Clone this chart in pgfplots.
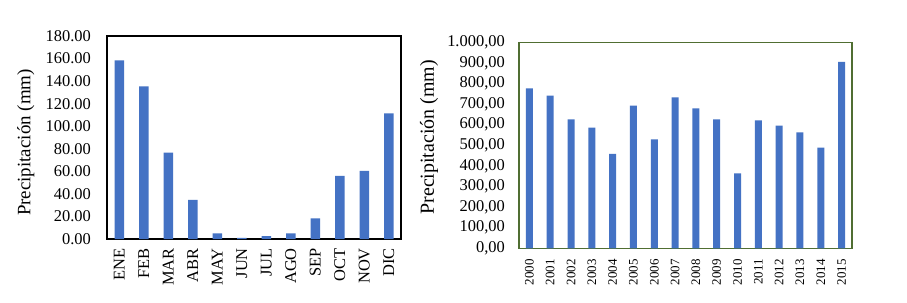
\documentclass[border=0pt]{standalone}
\usepackage{fontspec}
\setmainfont{Liberation Serif}
\usepackage{pgfplots}
\pgfplotsset{compat=1.18}
\definecolor{barblue}{HTML}{4472C4}
\definecolor{boxgreen}{RGB}{80,110,50}
\begin{document}
\begin{tikzpicture}[x=1bp,y=1bp]
\path[use as bounding box, fill=white] (0,0) rectangle (907,302);
\begin{axis}[at={(107bp,63bp)}, anchor=south west, scale only axis,
  width=294bp, height=203bp,
  xmin=-0.5, xmax=11.5, ymin=0, ymax=180,
  ytick={0,20,...,180}, xtick={0,...,11},
  xticklabels={ENE,FEB,MAR,ABR,MAY,JUN,JUL,AGO,SEP,OCT,NOV,DIC},
  major tick length=0pt,
  axis line style={black, line width=1.2bp},
  ybar, bar width=9.5bp, bar shift=0pt,
  yticklabel style={font=\fontsize{16.5}{18}\selectfont, inner sep=0pt, anchor=east,
    /pgf/number format/fixed, /pgf/number format/fixed zerofill,
    /pgf/number format/precision=2, /pgf/number format/1000 sep={},
    /pgf/number format/assume math mode=true},
  yticklabel shift=16bp,
  xticklabel style={font=\fontsize{16.5}{18}\selectfont, rotate=90, anchor=east, inner sep=0pt},
  xticklabel shift=9bp,
  every axis y label/.style={at={(axis description cs:-0.2765,0.475)}, rotate=90, anchor=center,
    font=\fontsize{19}{21}\selectfont},
  ylabel={Precipitación (mm)},
]
\addplot[fill=barblue, draw=none] coordinates {
(0,158.4) (1,135.4) (2,76.5) (3,34.6) (4,5.0) (5,1.0) (6,2.6) (7,5.0) (8,18.3) (9,56.0) (10,60.3) (11,111.4)
};
\end{axis}
\begin{axis}[at={(519bp,53.7bp)}, anchor=south west, scale only axis,
  width=333bp, height=206bp,
  xmin=-0.5, xmax=15.5, ymin=0, ymax=1000,
  ytick={0,100,...,1000}, xtick={0,...,15},
  xticklabels={2000,2001,2002,2003,2004,2005,2006,2007,2008,2009,2010,2011,2012,2013,2014,2015},
  major tick length=0pt,
  axis line style={boxgreen, line width=1.3bp},
  ybar, bar width=7bp, bar shift=0pt,
  yticklabel style={font=\fontsize{16.5}{18}\selectfont, inner sep=0pt, anchor=east,
    /pgf/number format/fixed, /pgf/number format/fixed zerofill,
    /pgf/number format/precision=2, /pgf/number format/use comma,
    /pgf/number format/1000 sep={.},
    /pgf/number format/assume math mode=true},
  yticklabel shift=14bp,
  xticklabel style={font=\fontsize{13}{15}\selectfont, rotate=90, anchor=east, inner sep=0pt},
  xticklabel shift=11bp,
  every axis y label/.style={at={(axis description cs:-0.2703,0.539)}, rotate=90, anchor=center,
    font=\fontsize{20}{22}\selectfont},
  ylabel={Precipitación (mm)},
]
\addplot[fill=barblue, draw=none] coordinates {
(0,776.7) (1,741) (2,626) (3,585.8) (4,458) (5,692.6) (6,529) (7,733) (8,679.6) (9,626)
(10,364) (11,621) (12,595.5) (13,563) (14,488.7) (15,904.5)
};
\end{axis}
\end{tikzpicture}
\end{document}
